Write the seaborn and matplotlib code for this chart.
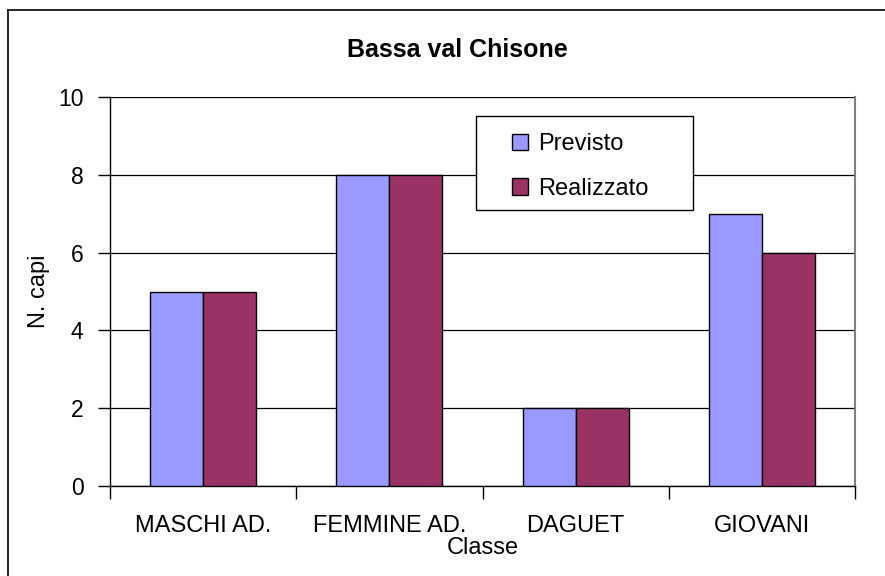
import numpy as np
import pandas as pd
import matplotlib
matplotlib.use("Agg")
import matplotlib.pyplot as plt
from matplotlib.lines import Line2D
from matplotlib.patches import Rectangle
import seaborn as sns

# Data
categories = ["MASCHI AD.", "FEMMINE AD.", "DAGUET", "GIOVANI"]
previsto = [5, 8, 2, 7]
realizzato = [5, 8, 2, 6]
series_names = ["Previsto", "Realizzato"]
colors = ["#9999FF", "#993366"]

df = pd.DataFrame({
    "Classe": categories * 2,
    "N. capi": previsto + realizzato,
    "Serie": [series_names[0]] * len(categories) + [series_names[1]] * len(categories),
})

sns.set_style("white")
plt.rcParams["font.family"] = ["Liberation Sans", "DejaVu Sans"]
plt.rcParams["text.color"] = "black"
plt.rcParams["axes.labelcolor"] = "black"
plt.rcParams["xtick.color"] = "black"
plt.rcParams["ytick.color"] = "black"

fig = plt.figure(figsize=(8.85, 5.76), dpi=100)
ax = fig.add_axes([110 / 885, 90 / 576, 745 / 885, 389 / 576])

sns.barplot(data=df, x="Classe", y="N. capi", hue="Serie", palette=colors,
            saturation=1, width=0.57, edgecolor="black", linewidth=1, ax=ax, zorder=3)

ax.set_ylim(0, 10)
ax.set_xlim(-0.5, len(categories) - 0.5)
ax.set_yticks(range(0, 11, 2))
ax.yaxis.grid(True, color="black", linewidth=0.9, zorder=0)
ax.set_axisbelow(True)

ax.tick_params(axis="y", labelsize=16.5, length=9, width=1, pad=10,
               direction="out", left=True, color="black")
ax.tick_params(axis="x", which="major", labelsize=17, length=0, pad=21)
ax.set_xticks(np.arange(-0.5, len(categories), 1.0), minor=True)
ax.tick_params(axis="x", which="minor", length=9, width=1, direction="out",
               bottom=True, color="black")

for side in ["left", "bottom"]:
    ax.spines[side].set_color("black")
    ax.spines[side].set_linewidth(1)
ax.spines["top"].set_visible(False)
ax.spines["right"].set_color("#808080")
ax.spines["right"].set_linewidth(1.5)

ax.set_xlabel("Classe", fontsize=17, labelpad=0)
ax.set_ylabel("N. capi", fontsize=17, labelpad=6)
fig.text(457 / 885, 1 - 50 / 576, "Bassa val Chisone", fontsize=18,
         fontweight="bold", ha="center", va="center")

# legend box
ax.add_patch(Rectangle((0.491, 0.7095), 0.292, 0.2415, transform=ax.transAxes,
                       facecolor="white", edgecolor="black", linewidth=1, zorder=4))
handles, labels = ax.get_legend_handles_labels()
leg = ax.legend(handles, labels, loc="upper left", bbox_to_anchor=(0.54, 0.907),
                fontsize=17, frameon=False, handlelength=0.68, handleheight=0.68,
                handletextpad=0.42, labelspacing=0.96, borderpad=0, borderaxespad=0)
leg.set_zorder(5)

# outer chart border
fig.add_artist(Line2D([8 / 885, 8 / 885], [0, 1 - 10 / 576], color="black", linewidth=1.2))
fig.add_artist(Line2D([8 / 885, 1], [1 - 10 / 576, 1 - 10 / 576], color="black", linewidth=1.2))

fig.savefig("out.png", dpi=100)
